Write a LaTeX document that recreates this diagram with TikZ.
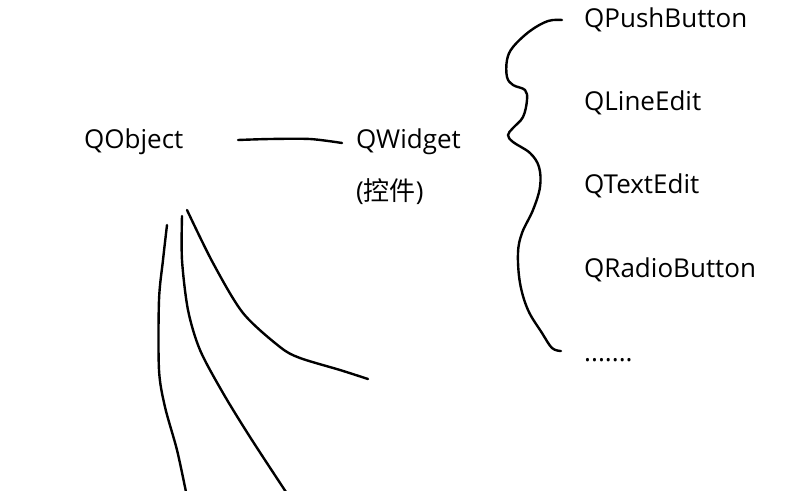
\documentclass[tikz,border=0pt]{standalone}
\usepackage{fontspec}
\setmainfont{Open Sans}
\newfontfamily\cjk{Noto Sans CJK SC}
\usetikzlibrary{positioning}

\begin{document}
\begin{tikzpicture}[
  x=1pt, y=-1pt,
  font=\fontsize{26}{31}\selectfont,
  cls/.style={inner sep=0pt, anchor=base west},
  stroke/.style={line width=2.4pt, line cap=round, line join=round}
]
\useasboundingbox (0,0) rectangle (797,490);

% class names
\node[cls] (qobject) at (84,148) {QObject};
\node[cls] (qwidget) at (356,148) {QWidget};
\node[cls] (widgetcn) at (356,200) {({\cjk 控件})};

\node[cls] (push)  at (584,27)  {QPushButton};
\node[cls] (line)  at (584,110) {QLineEdit};
\node[cls] (text)  at (584,193) {QTextEdit};
\node[cls] (radio) at (584,277) {QRadioButton};
\node[cls] (more)  at (584,361) {.......};

% hand drawn connectors
\coordinate (objr) at (238,140);
\coordinate (widl) at (342,143);
\draw[stroke] plot[smooth] coordinates {(objr) (270,139) (310,139) (widl)};

\coordinate (bracetop) at (562,20);
\coordinate (bracebot) at (561,351);
\draw[stroke] plot[smooth, tension=0.6] coordinates {
  (bracetop) (548,21) (530,31) (513,47) (507,60) (507,77) (513,85)
  (525,90) (527,100) (523,117) (513,128) (508,135) (513,142)
  (530,153) (539,167) (540,187) (533,210) (522,233) (518,253)
  (520,283) (528,310) (542,333) (552,348) (bracebot)};

\coordinate (sub1) at (167,225);
\coordinate (sub1e) at (186,492);
\draw[stroke] plot[smooth] coordinates {(sub1) (163,260) (159,300) (159,370) (165,407) (177,450) (sub1e)};

\coordinate (sub2) at (182,216);
\coordinate (sub2e) at (286,492);
\draw[stroke] plot[smooth] coordinates {(sub2) (182,260) (188,310) (200,350) (223,393) (250,437) (sub2e)};

\coordinate (sub3) at (187,210);
\coordinate (sub3e) at (368,379);
\draw[stroke] plot[smooth] coordinates {(sub3) (213,263) (243,313) (280,347) (300,358) (340,370) (sub3e)};
\end{tikzpicture}
\end{document}
